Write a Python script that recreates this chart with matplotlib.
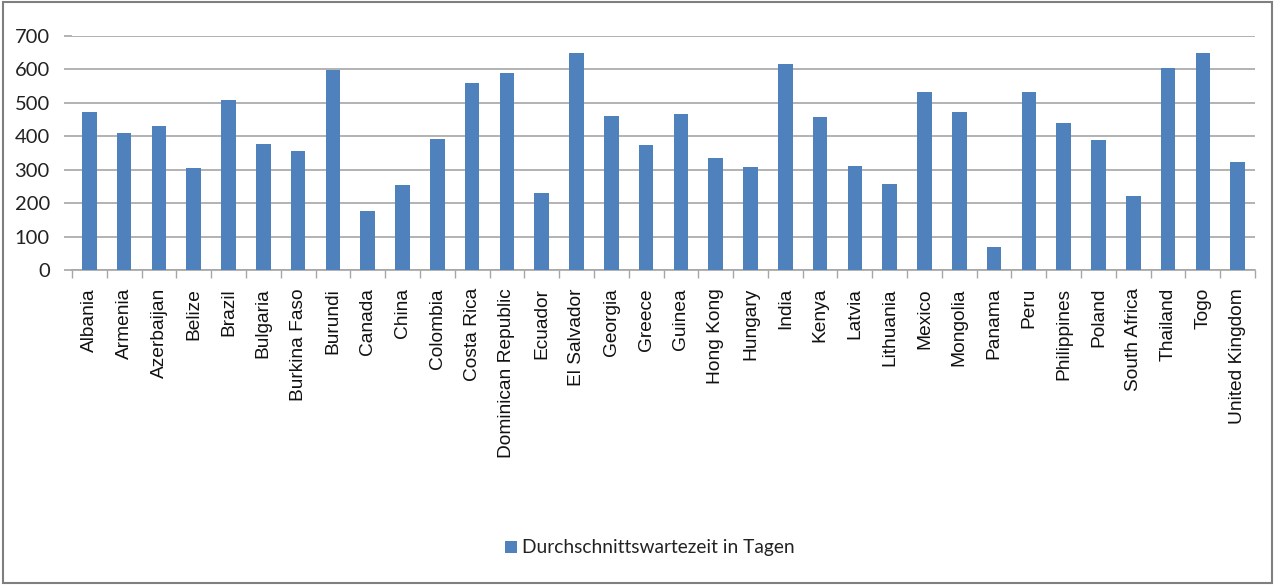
import matplotlib.pyplot as plt
import matplotlib as mpl
from matplotlib.patches import Rectangle

mpl.rcParams['font.family'] = ['Liberation Sans', 'DejaVu Sans']

countries = ["Albania", "Armenia", "Azerbaijan", "Belize", "Brazil", "Bulgaria",
             "Burkina Faso", "Burundi", "Canada", "China", "Colombia", "Costa Rica",
             "Dominican Republic", "Ecuador", "El Salvador", "Georgia", "Greece",
             "Guinea", "Hong Kong", "Hungary", "India", "Kenya", "Latvia",
             "Lithuania", "Mexico", "Mongolia", "Panama", "Peru", "Philippines",
             "Poland", "South Africa", "Thailand", "Togo", "United Kingdom"]
days = [472, 409, 432, 304, 509, 378, 356, 598, 176, 255, 393, 560,
        588, 231, 648, 460, 375, 468, 336, 308, 615, 457, 312,
        258, 533, 472, 68, 533, 440, 390, 220, 603, 648, 324]
yticks = [0, 100, 200, 300, 400, 500, 600, 700]
series_name = "Durchschnittswartezeit in Tagen"

bar_color = "#4f81bd"
grid_color = "#a6a6a6"
narrow = ['Lato', 'DejaVu Sans']

fig = plt.figure(figsize=(12.75, 5.85), dpi=100)
ax = fig.add_axes([72 / 1275, 1 - 270 / 585, (1255 - 72) / 1275, (270 - 36) / 585])

x = list(range(len(countries)))
ax.bar(x, days, width=0.42, color=bar_color, zorder=3, label=series_name)

ax.set_xlim(-0.5, len(countries) - 0.5)
ax.set_ylim(0, 700)
ax.set_yticks(yticks)
ax.set_yticklabels([str(v) for v in yticks], fontsize=14.5, color="#222222",
                   family=narrow)
ax.yaxis.grid(True, color=grid_color, linewidth=1.2, zorder=0)

ax.set_xticks(x)
ax.set_xticklabels(countries, rotation=90, fontsize=13.8, color="#111111")
ax.tick_params(axis='x', length=0, pad=13)
# tick marks between categories
ax.set_xticks([i - 0.5 for i in range(len(countries) + 1)], minor=True)
ax.tick_params(axis='x', which='minor', length=6, color=grid_color, width=1)
ax.tick_params(axis='y', length=6, color=grid_color, width=1.2, pad=10)

for side in ['top', 'right', 'left']:
    ax.spines[side].set_visible(False)
ax.spines['bottom'].set_color(grid_color)
ax.spines['bottom'].set_linewidth(1.2)

leg = fig.legend(loc='center', bbox_to_anchor=(650 / 1275, 1 - 548 / 585),
                 frameon=False, prop={'family': narrow, 'size': 13.8},
                 handlelength=0.6, handleheight=0.6, handletextpad=0.3)
for t in leg.get_texts():
    t.set_color("#222222")

# outer frame
fig.patches.append(Rectangle((0.002, 0.003), 0.996, 0.994, transform=fig.transFigure,
                             fill=False, edgecolor="#7f7f7f", linewidth=1.5))

fig.savefig("out.png", dpi=100)
